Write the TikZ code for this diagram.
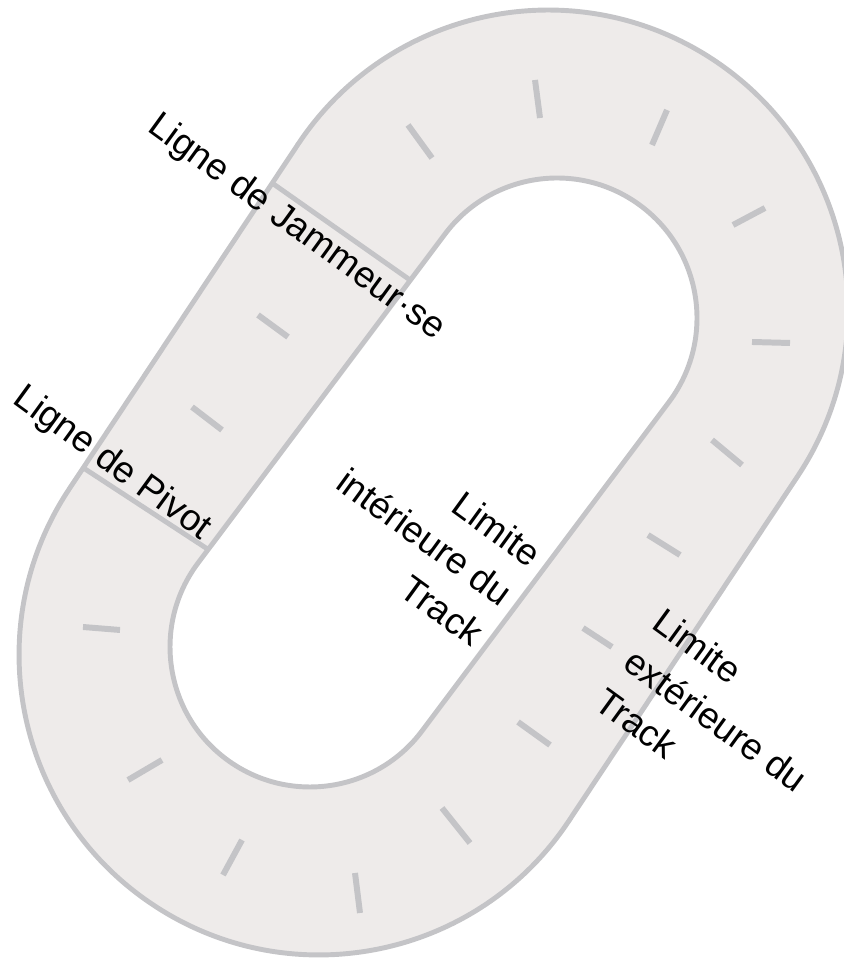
\documentclass[tikz,border=0pt]{standalone}
\usepackage{fontspec}
\setmainfont{Liberation Sans}
\usetikzlibrary{calc}
\definecolor{FondPiste}{RGB}{238,235,234}
\definecolor{TraitPiste}{RGB}{196,196,199}

\begin{document}
\begin{tikzpicture}[x=0.02cm,y=0.02cm,
  limite/.style={draw=TraitPiste,line width=2.8pt},
  repere/.style={draw=TraitPiste,line width=3.4pt},
  etiquette/.style={font=\fontsize{21}{28}\selectfont,rotate=-36,inner sep=0pt}]
  \useasboundingbox (0,0) rectangle (843,969);
  \coordinate (Oh) at (548,659);
  \coordinate (Ob) at (319,314);
  \coordinate (Ih) at (557,651);
  \coordinate (Ib) at (310,322);
  \path[fill=FondPiste,limite,even odd rule]
    ($(Oh)+(146.4:6cm)$) arc[start angle=146.4,end angle=-33.6,radius=6cm]
      -- ($(Ob)+(-33.6:6cm)$) arc[start angle=-33.6,end angle=-213.6,radius=6cm] -- cycle
    ($(Ih)+(143.1:2.8cm)$) arc[start angle=143.1,end angle=-36.9,radius=2.8cm]
      -- ($(Ib)+(-36.9:2.8cm)$) arc[start angle=-36.9,end angle=-216.9,radius=2.8cm] -- cycle;
  \foreach \xa/\ya/\xb/\yb in {535/889/540/851, 408/844/432/811, 667/859/652/824,
      765/761/733/744, 752/627/790/626, 712/529/742/504, 648/434/680/414,
      583/341/612/322, 518/247/550/224, 442/161/470/126, 355/96/360/56,
      242/129/223/94, 162/209/128/189, 83/342/120/339, 192/562/222/539,
      258/654/288/632}
    \draw[repere] (\xa,\ya) -- (\xb,\yb);
  \coordinate (jamExt) at (272,786);
  \coordinate (jamInt) at (410,689);
  \coordinate (pivExt) at (82,502);
  \coordinate (pivInt) at (209,419);
  \draw[limite] (jamExt) -- (jamInt);
  \draw[limite] (pivExt) -- (pivInt);
  \node[etiquette] (jammeur) at (296,741) {Ligne de Jammeur·se};
  \node[etiquette] (pivot) at (112,505) {Ligne de Pivot};
  \node[etiquette,align=right] (interieure) at (425,432) {Limite\\intérieure du\\Track};
  \node[etiquette,align=left] (exterieure) at (716,249) {Limite\\extérieure du\\Track};
\end{tikzpicture}
\end{document}
